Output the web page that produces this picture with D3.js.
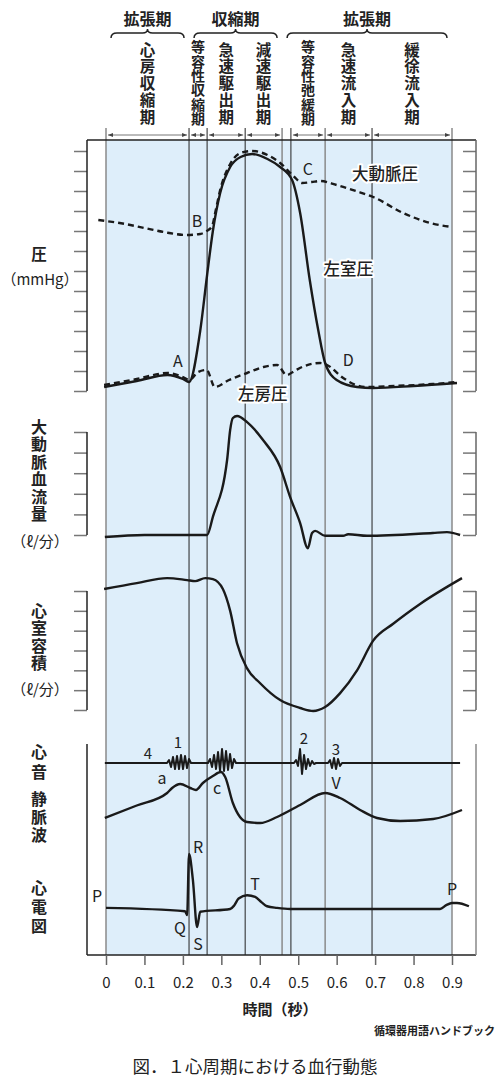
<!DOCTYPE html>
<html>
<head>
<meta charset="utf-8">
<script src="https://cdn.jsdelivr.net/npm/d3@7"></script>
<style>
  body { margin: 0; background: #fff; }
  text { font-family: "Noto Sans CJK JP", "Noto Sans", sans-serif; fill: #222; }
  .vert { writing-mode: vertical-rl; text-orientation: upright; }
</style>
</head>
<body>
<svg id="chart" width="500" height="1080"></svg>
<script>
// ---- data ----
const timeTicks = [0, 0.1, 0.2, 0.3, 0.4, 0.5, 0.6, 0.7, 0.8, 0.9];
const phaseTimes = [0, 0.216, 0.263, 0.362, 0.458, 0.481, 0.57, 0.692, 0.9];
const grayPhase = [0, 0.458, 0.57, 0.9];
const phaseSpans = [[0, 0.216], [0.216, 0.263], [0.263, 0.362], [0.362, 0.458],
                    [0.481, 0.57], [0.57, 0.692], [0.692, 0.9]];
const phaseNames = ['心房収縮期', '等容性収縮期', '急速駆出期', '減速駆出期',
                    '等容性弛緩期', '急速流入期', '緩徐流入期'];
const groupSpans = [[0, 0.216], [0.216, 0.458], [0.458, 0.9]];
const groupNames = ['拡張期', '収縮期', '拡張期'];

// pressures (mmHg)
const lvPressure = [[-0.005, 2], [0.08, 5], [0.16, 8], [0.2, 6], [0.216, 4.5], [0.245, 30],
  [0.263, 58], [0.278, 80], [0.297, 99], [0.323, 112], [0.35, 117], [0.38, 118.5], [0.42, 116],
  [0.453, 112], [0.484, 105.5], [0.505, 89], [0.53, 55.5], [0.552, 30.5], [0.57, 14],
  [0.6, 5.5], [0.653, 2], [0.695, 1.5], [0.8, 2.5], [0.913, 4]];
const aorticPressure = [[-0.02, 85.5], [0.05, 83.5], [0.1, 81.5], [0.15, 79.5], [0.21, 78],
  [0.245, 78.5], [0.262, 80], [0.276, 82.5], [0.285, 90], [0.297, 100.5], [0.323, 113.5],
  [0.35, 119], [0.38, 120], [0.42, 118], [0.453, 114], [0.49, 107], [0.51, 104], [0.535, 104.5],
  [0.557, 105], [0.6, 103], [0.65, 100], [0.695, 97], [0.773, 89], [0.843, 84], [0.9, 82]];
const atrialPressure = [[-0.005, 3], [0.08, 6], [0.16, 9], [0.2, 7], [0.216, 5.5], [0.24, 9.5],
  [0.262, 10.5], [0.283, 2], [0.32, 5.5], [0.367, 9], [0.41, 12], [0.445, 13], [0.47, 8],
  [0.49, 10], [0.51, 12], [0.557, 14], [0.575, 13], [0.617, 6.5], [0.65, 3], [0.68, 2],
  [0.75, 2.5], [0.85, 3.5], [0.913, 4.5]];

// aortic flow
const aorticFlow = [[-0.003, -0.5], [0.1, 0], [0.263, 0], [0.278, 4.4], [0.315, 18.2],
  [0.323, 25.5], [0.33, 28.4], [0.341, 28.9], [0.367, 27.4], [0.408, 23.1], [0.453, 16.5],
  [0.479, 9.2], [0.505, 2.9], [0.525, -3.2], [0.536, 0.5], [0.544, 1], [0.57, -0.2],
  [0.617, -0.2], [0.63, 0.2], [0.679, -0.2], [0.85, 0.5], [0.887, 0.7], [0.921, 0]];

// ventricular volume
const ventVolume = [[-0.005, 122], [0.08, 128], [0.159, 133], [0.211, 131], [0.232, 130],
  [0.258, 133], [0.278, 132], [0.304, 122], [0.323, 100], [0.341, 67], [0.367, 42],
  [0.401, 27], [0.453, 10], [0.505, 2], [0.539, -1], [0.57, 3], [0.609, 17], [0.653, 40],
  [0.695, 70], [0.747, 87], [0.817, 107], [0.926, 133]];

// heart sounds (zigzag vertices)
const heartSound = [[-0.003, 0], [0.1587, 0], [0.1639, 3], [0.1691, -4], [0.1743, 6],
  [0.1795, -6], [0.1847, 7], [0.1899, -6], [0.1951, 8], [0.2003, -6], [0.2055, 7],
  [0.2107, -5], [0.2159, 4], [0.2211, 0], [0.2653, 0], [0.2706, 4], [0.2758, -4],
  [0.281, 8], [0.2862, -6], [0.2914, 11], [0.2966, -8], [0.3018, 14], [0.307, -8],
  [0.3122, 12], [0.3174, -7], [0.3226, 9], [0.3278, -5], [0.333, 4], [0.3382, 0],
  [0.4891, 0], [0.4943, 3], [0.4995, -3], [0.5047, 14], [0.5099, -11], [0.5151, 8],
  [0.5203, -6], [0.5255, 4], [0.5307, -3], [0.5359, 2], [0.5411, -1], [0.5463, 0],
  [0.5775, 0], [0.5827, 3], [0.5879, -5], [0.5931, 5], [0.5983, -6], [0.6035, 4],
  [0.6087, -3], [0.6139, 0], [0.921, 0]];

// venous wave
const venousWave = [[-0.003, 1], [0.08, 3.5], [0.159, 6], [0.172, 7], [0.193, 7.8],
  [0.219, 7], [0.234, 6.6], [0.252, 8], [0.278, 9.4], [0.299, 10.2], [0.31, 9.2], [0.33, 4],
  [0.367, 0.2], [0.401, 0], [0.445, 1.2], [0.505, 3.6], [0.57, 6], [0.609, 5], [0.661, 2.6],
  [0.705, 1], [0.765, 0.4], [0.851, 0.8], [0.926, 2.6]];

// ECG (mV, relative)
const ecg = [[0, 0.02], [0.2055, -0.04], [0.211, -0.11], [0.216, 1.0], [0.226, 0.53],
  [0.237, -0.33], [0.245, -0.05], [0.323, 0], [0.333, 0.06], [0.345, 0.19], [0.367, 0.25],
  [0.388, 0.22], [0.405, 0.12], [0.419, 0.05], [0.445, 0.02], [0.479, 0], [0.869, 0],
  [0.885, 0.07], [0.9, 0.11], [0.913, 0.11], [0.944, 0.05]];

// ---- scales ----
const svg = d3.select('#chart');
const x = d3.scaleLinear().domain([0, 0.9]).range([106, 452]);
const pY = d3.scaleLinear().domain([0, 120]).range([391, 151]);
const flowY = d3.scaleLinear().domain([0, 25]).range([535, 432]);
const volY = d3.scaleLinear().domain([0, 120]).range([710, 591]);
const sndY = d3.scaleLinear().domain([-10, 10]).range([773, 753]);
const venY = d3.scaleLinear().domain([0, 10]).range([823, 773]);
const ecgY = d3.scaleLinear().domain([0, 1]).range([909, 854]);

const defs = svg.append('defs');
defs.append('marker')
  .attr('id', 'ah')
  .attr('viewBox', '0 0 10 10')
  .attr('refX', 10).attr('refY', 5)
  .attr('markerWidth', 5).attr('markerHeight', 5)
  .attr('orient', 'auto-start-reverse')
  .append('path').attr('d', 'M0,1L10,5L0,9z').attr('fill', '#444');

// blue background
svg.append('rect')
  .attr('x', x(0)).attr('y', 140)
  .attr('width', x(0.9) - x(0)).attr('height', 815)
  .attr('fill', '#deeefa');

// phase lines
svg.append('g').selectAll('line').data(phaseTimes).join('line')
  .attr('x1', d => x(d)).attr('x2', d => x(d))
  .attr('y1', 128).attr('y2', 955)
  .attr('stroke', d => grayPhase.includes(d) ? '#8a8a8a' : '#222')
  .attr('stroke-width', d => grayPhase.includes(d) ? 1.5 : 1);

// header arrows
svg.append('g').selectAll('line').data(phaseSpans).join('line')
  .attr('x1', d => x(d[0]) + 2).attr('x2', d => x(d[1]) - 2)
  .attr('y1', 135).attr('y2', 135)
  .attr('stroke', '#777').attr('stroke-width', 1)
  .attr('marker-start', 'url(#ah)').attr('marker-end', 'url(#ah)');

// vertical text: one text element, stacked upright chars
function vtext(cx, yTop, txt, fs, pitch) {
  return svg.append('text')
    .attr('class', 'vert')
    .attr('x', cx).attr('y', yTop)
    .attr('font-size', fs).attr('font-weight', 700)
    .attr('letter-spacing', pitch - fs)
    .text(txt);
}

// phase names
phaseNames.forEach((name, i) => {
  const cx = x((phaseSpans[i][0] + phaseSpans[i][1]) / 2);
  const long = name.length > 5;
  vtext(cx, long ? 40 : 42, name, long ? 14 : 15.5, long ? 14.3 : 16.8);
});

// group braces + names
groupSpans.forEach((s, i) => {
  const x1 = x(s[0]) + 5, x2 = x(s[1]) - 5, xm = (x1 + x2) / 2, y = 33;
  svg.append('path')
    .attr('d', `M${x1},${y + 5}Q${x1},${y} ${x1 + 6},${y}L${xm - 5},${y}Q${xm},${y} ${xm},${y - 4}` +
               `Q${xm},${y} ${xm + 5},${y}L${x2 - 6},${y}Q${x2},${y} ${x2},${y + 5}`)
    .attr('fill', 'none').attr('stroke', '#222').attr('stroke-width', 1.5);
  svg.append('text')
    .attr('x', (x(s[0]) + x(s[1])) / 2).attr('y', 18)
    .attr('text-anchor', 'middle').attr('dominant-baseline', 'central')
    .attr('font-size', 16).attr('font-weight', 700)
    .text(groupNames[i]);
});

// frame lines
svg.append('line').attr('x1', 87).attr('x2', 476).attr('y1', 140).attr('y2', 140)
  .attr('stroke', '#222').attr('stroke-width', 1.5);
svg.append('line').attr('x1', 87).attr('x2', 476).attr('y1', 955).attr('y2', 955)
  .attr('stroke', '#222').attr('stroke-width', 1.5);

function sideAxes(scale, ticks, yTop, yBot) {
  [87, 476].forEach((xp, k) => {
    const g = svg.append('g').attr('transform', `translate(${xp},0)`)
      .call(d3.axisLeft(scale).tickValues(ticks).tickSize(13).tickSizeOuter(0).tickFormat(''));
    g.select('.domain').remove();
    g.selectAll('.tick line').attr('stroke', '#777').attr('stroke-width', 1.5);
    svg.append('line').attr('x1', xp).attr('x2', xp).attr('y1', yTop).attr('y2', yBot)
      .attr('stroke', k === 0 ? '#222' : '#666').attr('stroke-width', 1.5);
  });
}
sideAxes(pY, d3.range(0, 121, 10), 140, 391);
sideAxes(flowY, d3.range(0, 26, 5), 432, 535);
sideAxes(volY, d3.range(0, 121, 20), 591, 710);
[87, 476].forEach((xp, k) => {
  svg.append('line').attr('x1', xp).attr('x2', xp).attr('y1', 744).attr('y2', 955)
    .attr('stroke', k === 0 ? '#222' : '#888').attr('stroke-width', 1.5);
});

// x axis
const xa = svg.append('g').attr('transform', 'translate(0,955)')
  .call(d3.axisBottom(x).tickValues(timeTicks).tickSize(10).tickSizeOuter(0)
    .tickFormat(d => d === 0 ? '0' : d3.format('.1f')(d)));
xa.select('.domain').remove();
xa.selectAll('.tick line').attr('stroke', '#666').attr('stroke-width', 1.5);
xa.selectAll('.tick text').attr('y', 28).attr('dy', '0.35em')
  .attr('font-size', 15).attr('fill', '#222')
  .attr('font-family', '"Noto Sans CJK JP", sans-serif');
svg.append('text').attr('x', 280).attr('y', 1008)
  .attr('text-anchor', 'middle').attr('dominant-baseline', 'central')
  .attr('font-size', 15).attr('font-weight', 700).text('時間（秒）');

// ---- curves ----
const smooth = (sy) => d3.line().x(d => x(d[0])).y(d => sy(d[1])).curve(d3.curveMonotoneX);
const curveStyle = (sel, dashed) => sel.attr('fill', 'none').attr('stroke', '#1a1a1a')
  .attr('stroke-width', 2.4).attr('stroke-linejoin', 'round')
  .attr('stroke-dasharray', dashed ? '6,4' : null);

curveStyle(svg.append('path').datum(atrialPressure).attr('d', smooth(pY)), true);
curveStyle(svg.append('path').datum(lvPressure).attr('d', smooth(pY)), false);
curveStyle(svg.append('path').datum(aorticPressure).attr('d', smooth(pY)), true);
curveStyle(svg.append('path').datum(aorticFlow).attr('d', smooth(flowY)), false);
curveStyle(svg.append('path').datum(ventVolume).attr('d', smooth(volY)), false);
curveStyle(svg.append('path').datum(venousWave).attr('d', smooth(venY)), false);
curveStyle(svg.append('path').datum(ecg).attr('d', smooth(ecgY)), false);
svg.append('path').datum(heartSound)
  .attr('d', d3.line().x(d => x(d[0])).y(d => sndY(d[1])))
  .attr('fill', 'none').attr('stroke', '#1a1a1a').attr('stroke-width', 2)
  .attr('stroke-linejoin', 'round');

// ---- annotations ----
function label(px, py, txt, fs, halo) {
  const t = svg.append('text').attr('x', px).attr('y', py)
    .attr('text-anchor', 'middle').attr('dominant-baseline', 'central')
    .attr('font-size', fs).text(txt);
  if (halo) t.attr('stroke', '#fff').attr('stroke-width', 4).attr('paint-order', 'stroke')
    .attr('stroke-linejoin', 'round');
  return t;
}
label(x(0.187), pY(15.5), 'A', 16);
label(x(0.237), pY(85.5), 'B', 16);
label(x(0.525), pY(111.5), 'C', 16);
label(x(0.63), pY(16), 'D', 16);
label(x(0.726), pY(109), '大動脈圧', 16.5, true).attr('font-weight', 500);
label(x(0.63), pY(61.5), '左室圧', 16.5, true).attr('font-weight', 500);
label(x(0.408), pY(-1), '左房圧', 16.5, true).attr('font-weight', 500);

label(148, 752, '4', 15);
label(178, 741, '1', 15);
label(304, 737, '2', 15);
label(336, 748, '3', 15);
label(162, 777, 'a', 16);
label(217, 787, 'c', 16);
label(336, 782, 'V', 16);
label(97, 895, 'P', 16);
label(198, 846, 'R', 16);
label(180, 927, 'Q', 16);
label(198, 943, 'S', 16);
label(255, 883, 'T', 16);
label(452, 888, 'P', 16);

// left labels
label(39, 253, '圧', 15.5).attr('font-weight', 700);
label(40, 278, '（mmHg）', 15);
vtext(39, 419, '大動脈血流量', 16, 17.4);
label(40, 540, '（ℓ/分）', 15);
vtext(39, 603, '心室容積', 16, 17.3);
label(40, 688, '（ℓ/分）', 15);
vtext(39, 744, '心音', 16, 20);
vtext(39, 791, '静脈波', 16, 18);
vtext(39, 880, '心電図', 16, 19);

// source + caption
svg.append('text').attr('x', 495).attr('y', 1030)
  .attr('text-anchor', 'end').attr('dominant-baseline', 'central')
  .attr('font-size', 11).attr('font-weight', 700).text('循環器用語ハンドブック');
svg.append('text').attr('x', 255).attr('y', 1065)
  .attr('text-anchor', 'middle').attr('dominant-baseline', 'central')
  .attr('font-size', 17.5).attr('fill', '#333').text('図．１心周期における血行動態');
</script>
</body>
</html>
